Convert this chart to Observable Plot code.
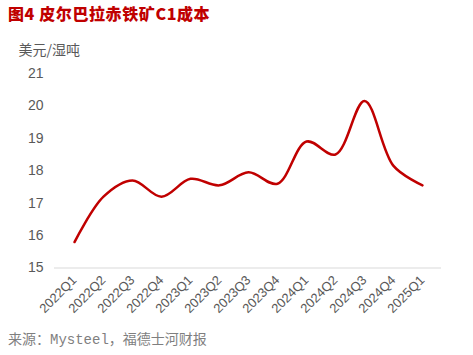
<!DOCTYPE html>
<html><head><meta charset="utf-8">
<script src="https://cdn.jsdelivr.net/npm/d3@7"></script>
<script src="https://cdn.jsdelivr.net/npm/@observablehq/plot@0.6"></script>
<style>
body{margin:0;background:#fff;width:473px;height:355px;overflow:hidden;}
#title{height:26px;line-height:26px;padding-left:8px;font-family:"Noto Sans CJK SC",sans-serif;font-weight:900;font-size:16px;color:#c00000;letter-spacing:0.6px;}
#caption{height:28px;line-height:28px;padding-left:8px;font-family:"Liberation Mono","Noto Sans CJK SC",monospace;font-size:14px;color:#7f7f7f;}
svg{display:block;}
</style></head>
<body>
<div id="title">图4 皮尔巴拉赤铁矿C1成本</div>
<div id="chart"></div>
<div id="caption">来源：Mysteel，福德士河财报</div>
<script>
const quarters = ["2022Q1","2022Q2","2022Q3","2022Q4","2023Q1","2023Q2","2023Q3","2023Q4","2024Q1","2024Q2","2024Q3","2024Q4","2025Q1"];
const costs = [15.8,17.2,17.7,17.2,17.75,17.55,17.95,17.6,18.9,18.5,20.15,18.15,17.55];
const yTicks = [15,16,17,18,19,20,21];
const yLabel = "美元/湿吨";

const data = quarters.map((q,i)=>({q, v: costs[i]}));

const chart = Plot.plot({
  width: 473, height: 300,
  marginLeft: 54, marginRight: 32, marginTop: 47, marginBottom: 58.5,
  style: {fontFamily: "'Liberation Sans', Arial, sans-serif", background: "#fff"},
  x: {domain: quarters, type: "point", padding: 0.5},
  y: {domain: [15, 21]},
  marks: [
    Plot.ruleY([15], {stroke: "#d9d9d9", strokeWidth: 1}),
    Plot.axisY({ticks: yTicks, tickFormat: d3.format("d"), tickSize: 0, tickPadding: 11, fontSize: 14, color: "#595959", label: null}),
    Plot.text([yLabel], {frameAnchor: "top-left", text: d => d, dx: -36, dy: -23, textAnchor: "start", lineAnchor: "middle",
      fontSize: 14, fill: "#595959", fontFamily: "'Noto Sans CJK SC', sans-serif", letterSpacing: 1}),
    Plot.axisX({tickSize: 0, tickRotate: -45, tickPadding: 10, fontSize: 13, color: "#595959", label: null}),
    Plot.line(data, {x: "q", y: "v", curve: "catmull-rom", stroke: "#c00000", strokeWidth: 2.5})
  ]
});
document.getElementById("chart").appendChild(chart);
</script>
</body></html>
